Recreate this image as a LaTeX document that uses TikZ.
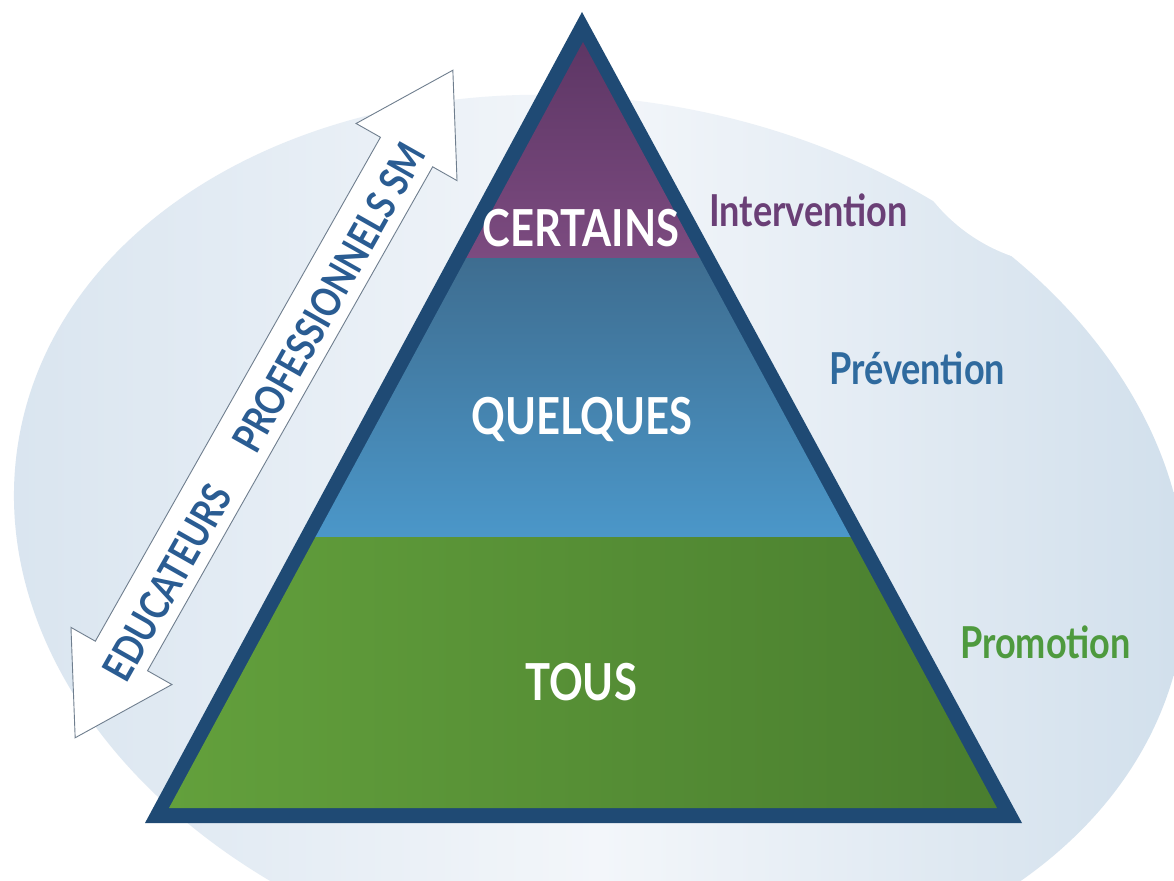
\documentclass[tikz,border=0pt]{standalone}
\usepackage{fontspec}
\setmainfont{Lato}
\newfontfamily\schmal{Lato}[FakeStretch=0.82]
\usepackage{tikz}
\usetikzlibrary{positioning}

\definecolor{rahmen}{HTML}{1F4A74}
\definecolor{lilaoben}{HTML}{5A3462}
\definecolor{lilaunten}{HTML}{7C4B80}
\definecolor{blauoben}{HTML}{3E6D90}
\definecolor{blauunten}{HTML}{4B97C9}
\definecolor{gruenlinks}{HTML}{65A33D}
\definecolor{gruenrechts}{HTML}{46792D}
\definecolor{grundlinks}{HTML}{D8E4EF}
\definecolor{grundrechts}{HTML}{CFDEEB}
\definecolor{grundmitte}{HTML}{F3F6FA}
\definecolor{textlila}{HTML}{6A3F76}
\definecolor{textblau}{HTML}{2F6A9E}
\definecolor{textgruen}{HTML}{4E9A3E}
\definecolor{pfeiltext}{HTML}{2A5C92}
\definecolor{pfeilrand}{HTML}{6F7E8E}

\begin{document}
\begin{tikzpicture}[x=1pt,y=-1pt,
	stufe/.style={text=white, inner sep=0pt, font=\schmal\bfseries\fontsize{51}{55}\selectfont},
	ebene/.style={inner sep=0pt, font=\schmal\bfseries\fontsize{44}{48}\selectfont}]
		\useasboundingbox (0,0) rectangle (1174,880);

		% Koordinaten
		\coordinate (a) at (582,12);
		\coordinate (b) at (145,823);
		\coordinate (c) at (1022,823);
		\coordinate (ai) at (583,42);
		\coordinate (bi) at (169,808);
		\coordinate (ci) at (997,808);
		\coordinate (em) at (600,540);
		\coordinate (pm) at (264,404);

		% Hintergrund
		\fill[white] (0,0) rectangle (1174,880);
		\shade[rotate around={-10:(em)}, left color=grundlinks, right color=grundrechts,
			middle color=grundmitte] (em) ellipse[x radius=590pt, y radius=440pt];
		\fill[white] (1070,90) circle[radius=176pt];

		% Pfeil
		\begin{scope}[shift={(pm)}, rotate=60.5]
			\draw[pfeilrand, fill=white, line width=0.9pt, line join=miter]
				(-383.5,0) -- (-289.5,58) -- (-289.5,30) -- (289.5,30) -- (289.5,58)
				-- (383.5,0) -- (289.5,-58) -- (289.5,-30) -- (-289.5,-30)
				-- (-289.5,-58) -- cycle;
		\end{scope}
		\node[rotate=60.5, text=pfeiltext, inner sep=0pt,
			font=\schmal\bfseries\fontsize{41}{44}\selectfont] (pfeil) at (264,412)
			{EDUCATEURS\hspace{1.1em}PROFESSIONNELS SM};

		% Pyramide
		\fill[rahmen] (a) -- (b) -- (c) -- cycle;
		\begin{scope}
			\clip (ai) -- (bi) -- (ci) -- cycle;
			\shade[top color=lilaoben, bottom color=lilaunten] (100,20) rectangle (1100,258);
			\shade[top color=blauoben, bottom color=blauunten] (100,258) rectangle (1100,537);
			\shade[left color=gruenlinks, right color=gruenrechts] (100,537) rectangle (1100,820);
		\end{scope}

		% Stufen
		\node[stufe, anchor=base] (certains) at (581,246) {CERTAINS};
		\node[stufe, anchor=base] (quelques) at (582,434) {QUELQUES};
		\node[stufe, anchor=base] (tous) at (581,700) {TOUS};

		% Ebenen
		\node[ebene, text=textlila, anchor=base west] (intervention) at (709,226) {Intervention};
		\node[ebene, text=textblau, anchor=base west] (prevention) at (829,384) {Prévention};
		\node[ebene, text=textgruen, anchor=base west] (promotion) at (960,658) {Promotion};
	\end{tikzpicture}
\end{document}
